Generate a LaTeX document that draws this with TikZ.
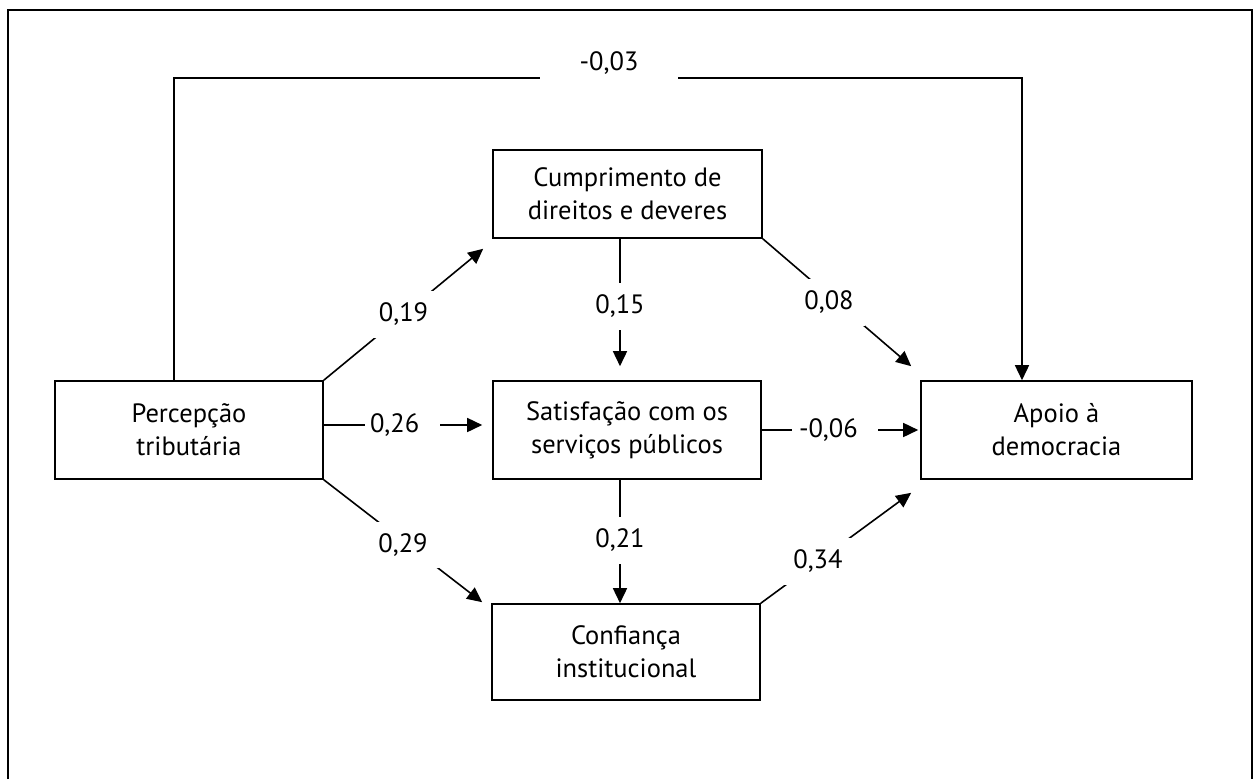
\documentclass[tikz,border=0pt]{standalone}
\usepackage{fontspec}
\setmainfont{PT Sans}
\usetikzlibrary{arrows.meta,calc}

\begin{document}
\begin{tikzpicture}[x=1pt,y=-1pt,
  every node/.style={font=\fontsize{26.5}{33}\selectfont},
  box/.style={draw, line width=1.6pt, align=center, inner sep=0pt},
  link/.style={line width=1.6pt, -{Triangle[length=15pt,width=14pt]}},
  coef/.style={fill=white, inner xsep=11pt, inner ysep=12pt},
  % coefficient set flush left inside a wider white gap
  coefleft/.style={fill=white, inner xsep=0pt, inner ysep=12pt,
    text width=#1, align=left},
  toplabel/.style={fill=white, anchor=base, yshift=8pt, inner sep=0pt,
    minimum width=138pt, text depth=12pt},
]
\useasboundingbox (0,0) rectangle (1258,779);

% frame, open at the bottom
\draw[line width=1.8pt] (8,779) -- (8,10) -- (1252,10) -- (1252,779);

% variables
\node[box, minimum width=268pt, minimum height=98pt] (perc)  at (189,430)   {Percepção\\tributária};
\node[box, minimum width=269pt, minimum height=88pt] (cump)  at (627.5,194) {Cumprimento de\\direitos e deveres};
\node[box, minimum width=268pt, minimum height=98pt] (sat)   at (627,430)   {Satisfação com os\\serviços públicos};
\node[box, minimum width=268pt, minimum height=96pt] (conf)  at (626,652)   {Confiança\\institucional};
\node[box, minimum width=271pt, minimum height=98pt] (apoio) at (1056.5,430){Apoio à\\democracia};

% routing helpers
\coordinate (mid) at (620,0);
\coordinate (tl) at (174,78);
\coordinate (tr) at (1022,78);

% paths with coefficients
\draw[link] (perc.north east) -- node[coef, pos=0.5] {0,19} ($(cump.south west)+(-9,10)$);
\draw[link] ($(perc.east)+(0,-5)$) -- node[coefleft=75pt, pos=0.497] {\hspace*{5pt}0,26} ($(sat.west)+(-10,-5)$);
\draw[link] (perc.south east) -- node[coef, pos=0.5, yshift=-4pt] {0,29} ($(conf.north west)+(-9,-1)$);
\draw[link] (cump.south -| mid) -- node[coef, pos=0.53] {0,15} ($(sat.north -| mid)+(0,-14)$);
\draw[link] (cump.south east) -- node[coef, pos=0.5, xshift=-8pt] {0,08} ($(apoio.north west)+(-9,-14)$);
\draw[link] (sat.east) -- node[coefleft=86pt, pos=0.468] {\hspace*{7pt}-0,06} ($(apoio.west)+(-2,0)$);
\draw[link] (sat.south -| mid) -- node[coef, pos=0.49] {0,21} (conf.north -| mid);
\draw[link] (conf.north east) -- node[coef, pos=0.38] {0,34} ($(apoio.south west)+(-9,13)$);
\draw[link] (perc.north -| tl) -- (tl) -- node[toplabel, pos=0.513] {-0,03} (tr) -- (apoio.north -| tr);
\end{tikzpicture}
\end{document}
